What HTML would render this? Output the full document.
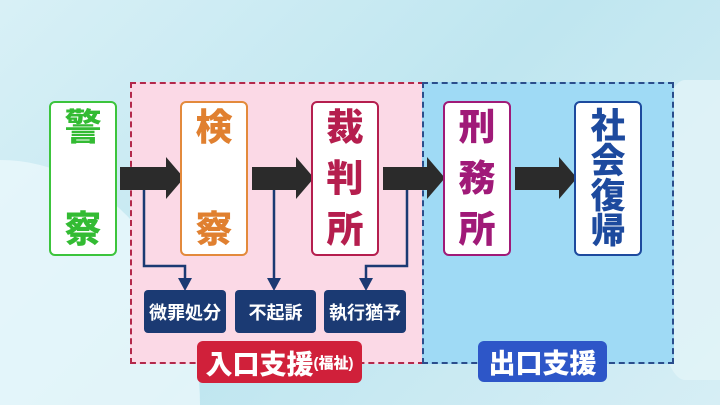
<!DOCTYPE html>
<html><head><meta charset="utf-8"><style>
html{width:720px;height:405px;overflow:hidden;background:#cdebf3}
body{margin:0;width:720px;height:405px;overflow:hidden;background:linear-gradient(135deg,#d8f0f6,#bfe6f0 50%,#d6eef5);font-family:"Liberation Sans","Noto Sans CJK JP",sans-serif;position:relative}
.a{position:absolute}
.box{position:absolute;top:101px;width:68px;background:#fff;border:2px solid;border-radius:6px;display:flex;flex-direction:column;align-items:center;font-weight:900;font-size:37px;line-height:1;justify-content:space-between;padding:6px 0;box-sizing:border-box;height:155px}
.sm{position:absolute;top:290px;height:43px;background:#1b3a73;color:#fff;border-radius:4px;font-weight:700;font-size:18px;display:flex;align-items:center;justify-content:center}
</style></head><body>
<div class="a" style="left:0;top:160px;width:200px;height:245px;border-radius:0 100% 0 0;background:#eaf8fb;opacity:.8"></div>
<div class="a" style="left:650px;top:80px;width:70px;height:300px;border-radius:100% 0 0 100%;background:#e2f4f8;opacity:.8"></div>
<div class="a" style="left:130px;top:82px;width:290px;height:278px;background:#fbd9e6;border:2px dashed #b3284b"></div>
<div class="a" style="left:422px;top:82px;width:248px;height:278px;background:#9fdaf5;border:2px dashed #2a4d8c"></div>
<svg class="a" style="left:0;top:0" width="720" height="405">
<g fill="#2b2b2b">
<rect x="120" y="167" width="48" height="23"/><polygon points="166,157 184,178 166,199"/>
<rect x="252" y="167" width="46" height="23"/><polygon points="296,157 314,178 296,199"/>
<rect x="383" y="167" width="46" height="23"/><polygon points="427,157 445,178 427,199"/>
<rect x="515" y="167" width="46" height="23"/><polygon points="559,157 577,178 559,199"/>
</g>
<g stroke="#1b3a73" stroke-width="2.5" fill="none">
<polyline points="144,190 144,266 185,266 185,280"/>
<polyline points="274,190 274,280"/>
<polyline points="407,190 407,266 366,266 366,280"/>
</g>
<g fill="#1b3a73">
<polygon points="178,278 192,278 185,291"/><polygon points="267,278 281,278 274,291"/><polygon points="359,278 373,278 366,291"/>
</g>
</svg>
<div class="box" style="left:49px;border-color:#3cc43c;color:#33bb33"><span>警</span><span>察</span></div>
<div class="box" style="left:180px;border-color:#e38a3c;color:#e08030"><span>検</span><span>察</span></div>
<div class="box" style="left:311px;border-color:#b51e4e;color:#b51e4e"><span>裁</span><span>判</span><span>所</span></div>
<div class="box" style="left:443px;border-color:#a01a78;color:#a01a78"><span>刑</span><span>務</span><span>所</span></div>
<div class="box" style="left:574px;border-color:#1d4a9e;color:#1d4a9e;font-size:35px"><span>社</span><span>会</span><span>復</span><span>帰</span></div>
<div class="sm" style="left:144px;width:82px">微罪処分</div>
<div class="sm" style="left:235px;width:81px">不起訴</div>
<div class="sm" style="left:324px;width:82px">執行猶予</div>
<div class="a" style="left:197px;top:341px;width:165px;height:42px;background:#d0203a;border-radius:6px;color:#fff;font-weight:900;font-size:27px;display:flex;align-items:center;justify-content:center">入口支援<span style="font-size:15px">(福祉)</span></div>
<div class="a" style="left:478px;top:341px;width:129px;height:41px;background:#2d56c8;border-radius:6px;color:#fff;font-weight:900;font-size:27px;display:flex;align-items:center;justify-content:center">出口支援</div>
</body></html>
